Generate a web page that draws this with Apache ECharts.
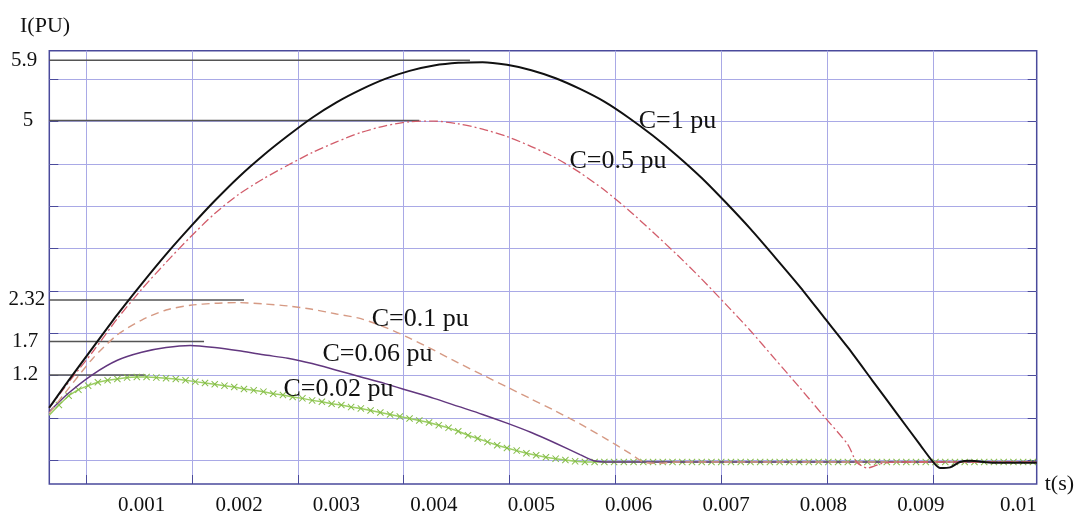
<!DOCTYPE html>
<html>
<head>
<meta charset="utf-8">
<script src="https://cdn.jsdelivr.net/npm/echarts@6/dist/echarts.min.js"></script>
<style>
  html, body { margin: 0; background: #fff; }
  #chart { width: 1083px; height: 520px; }
</style>
</head>
<body>
<div id="chart"></div>
<script>
// time in ms, current in PU
const xTicks = [1, 2, 3, 4, 5, 6, 7, 8, 9, 10];
const yTicks = [1.2, 1.7, 2.32, 5, 5.9];
const yPad = [7, 7, 0, 12, 8]; // right padding of each y label

// C = 1 pu
const curveC1 = [[0.05,0.71],[0.25,1.12],[0.5,1.61],[0.75,2.10],[1.0,2.56],[1.25,3.00],[1.5,3.41],[1.75,3.80],[2.0,4.16],[2.25,4.48],[2.5,4.77],[2.75,5.04],[3.0,5.27],[3.25,5.46],[3.5,5.62],[3.75,5.74],[4.0,5.82],[4.25,5.86],[4.5,5.87],[4.75,5.83],[5.0,5.75],[5.25,5.63],[5.5,5.47],[5.75,5.28],[6.0,5.04],[6.25,4.77],[6.5,4.47],[6.75,4.14],[7.0,3.77],[7.25,3.38],[7.5,2.96],[7.75,2.53],[8.0,2.07],[8.25,1.61],[8.5,1.12],[8.75,0.63],[9.0,0.14],[9.12,-0.09],[9.2,-0.19],[9.3,-0.18],[9.4,-0.10],[9.5,-0.08],[9.75,-0.11],[10.0,-0.11],[10.19,-0.11]];
// C = 0.5 pu
const curveC05 = [[0.05,0.71],[0.25,1.09],[0.5,1.55],[0.75,2.04],[1.0,2.48],[1.25,2.88],[1.5,3.26],[1.75,3.61],[2.0,3.90],[2.25,4.13],[2.5,4.33],[2.75,4.52],[3.0,4.68],[3.25,4.82],[3.5,4.92],[3.75,4.98],[4.0,4.99],[4.25,4.95],[4.5,4.87],[4.75,4.76],[5.0,4.61],[5.25,4.44],[5.5,4.22],[5.75,3.96],[6.0,3.66],[6.25,3.33],[6.5,2.99],[6.75,2.63],[7.0,2.25],[7.25,1.86],[7.5,1.44],[7.75,1.02],[8.0,0.59],[8.25,0.16],[8.34,-0.10],[8.45,-0.19],[8.6,-0.12],[8.75,-0.10],[10.19,-0.10]];
// C = 0.1 pu
const curveC01 = [[0.05,0.63],[0.25,1.0],[0.5,1.45],[0.75,1.80],[1.0,2.02],[1.25,2.17],[1.5,2.24],[1.75,2.27],[2.0,2.28],[2.25,2.26],[2.5,2.23],[2.75,2.18],[3.0,2.11],[3.25,2.04],[3.5,1.91],[3.75,1.75],[4.0,1.57],[4.25,1.38],[4.5,1.20],[4.75,1.02],[5.0,0.84],[5.25,0.66],[5.5,0.47],[5.75,0.26],[6.0,0.04],[6.15,-0.10],[6.3,-0.12],[6.5,-0.10],[10.19,-0.10]];
// C = 0.06 pu
const curveC006 = [[0.05,0.65],[0.25,0.93],[0.5,1.21],[0.75,1.42],[1.0,1.54],[1.25,1.61],[1.5,1.64],[1.75,1.61],[2.0,1.56],[2.25,1.50],[2.5,1.45],[2.75,1.37],[3.0,1.27],[3.25,1.17],[3.5,1.07],[3.75,0.96],[4.0,0.85],[4.25,0.73],[4.5,0.61],[4.75,0.48],[5.0,0.34],[5.25,0.18],[5.5,0.01],[5.64,-0.08],[5.8,-0.10],[10.19,-0.10]];
// C = 0.02 pu (sampled, drawn with x markers)
const tC002 = [0.05,0.15,0.25,0.35,0.45,0.55,0.65,0.75,0.85,0.95,1.05,1.15,1.25,1.35,1.45,1.55,1.65,1.75,1.85,1.95,2.05,2.15,2.25,2.35,2.45,2.55,2.65,2.75,2.85,2.95,3.05,3.15,3.25,3.35,3.45,3.55,3.65,3.75,3.85,3.95,4.05,4.15,4.25,4.35,4.45,4.55,4.65,4.75,4.85,4.95,5.05,5.15,5.25,5.35,5.45,5.55,5.65,5.75,5.85,5.95,6.05,6.15,6.25,6.35,6.45,6.55,6.65,6.75,6.85,6.95,7.05,7.15,7.25,7.35,7.45,7.55,7.65,7.75,7.85,7.95,8.05,8.15,8.25,8.35,8.45,8.55,8.65,8.75,8.85,8.95,9.05,9.15,9.25,9.35,9.45,9.55,9.65,9.75,9.85,9.95,10.05,10.15];
const vC002 = [0.60,0.75,0.89,0.98,1.04,1.09,1.12,1.14,1.16,1.17,1.17,1.16,1.15,1.14,1.12,1.10,1.08,1.06,1.04,1.02,0.99,0.97,0.95,0.92,0.90,0.87,0.85,0.82,0.80,0.77,0.75,0.72,0.70,0.67,0.64,0.61,0.58,0.55,0.52,0.49,0.45,0.41,0.36,0.30,0.25,0.20,0.15,0.11,0.07,0.03,0.00,-0.03,-0.05,-0.07,-0.09,-0.10,-0.10,-0.10,-0.10,-0.10,-0.10,-0.10,-0.10,-0.10,-0.10,-0.10,-0.10,-0.10,-0.10,-0.10,-0.10,-0.10,-0.10,-0.10,-0.10,-0.10,-0.10,-0.10,-0.10,-0.10,-0.10,-0.10,-0.10,-0.10,-0.10,-0.10,-0.10,-0.10,-0.10,-0.10,-0.10,-0.10,-0.10,-0.10,-0.10,-0.10,-0.10,-0.10,-0.10,-0.10,-0.10,-0.10];

// peak marker lines: value and time where the line stops
const peakValues = [5.9, 5, 2.32, 1.7, 1.2];
const peakEnds = [4.37, 3.85, 2.05, 1.64, 1.04];

// curve captions
const captions = ['C=1 pu', 'C=0.5 pu', 'C=0.1 pu', 'C=0.06 pu', 'C=0.02 pu'];
const captionPos = [[6.50, 4.99], [5.89, 4.39], [3.86, 2.03], [3.42, 1.51], [3.02, 0.99]];

const T_MIN = 0.0513, T_MAX = 10.189;
const I_MIN = -0.4285, I_MAX = 6.041;
const FONT = '"Liberation Serif", "Times New Roman", serif';
const BORDER = '#4a4a9c';
const GRIDLINE = '#a9a9e6';

const chart = echarts.init(document.getElementById('chart'));

const peakSeries = peakValues.map((v, i) => ({
  type: 'line',
  silent: true,
  showSymbol: false,
  data: [[T_MIN, v], [peakEnds[i], v]],
  lineStyle: { color: '#555', width: 1.5 },
  z: 3,
}));

const option = {
  animation: false,
  backgroundColor: '#fff',
  title: {
    text: 'I(PU)',
    left: 15,
    top: 10,
    textStyle: { fontFamily: FONT, fontSize: 22, fontWeight: 'normal', color: '#111' },
  },
  grid: [
    { left: 49.3, right: 46.3, top: 50.7, bottom: 36, show: true, borderColor: BORDER, borderWidth: 1.5 },
    { left: 86, right: 149.7, top: 50.7, bottom: 36 },
    { left: 49.3, right: 46.3, top: 79.3, bottom: 59.9 },
  ],
  xAxis: [
    {
      gridIndex: 0,
      type: 'value',
      min: T_MIN,
      max: T_MAX,
      name: 't(s)',
      nameLocation: 'end',
      nameGap: 8,
      nameTextStyle: { fontFamily: FONT, fontSize: 22, color: '#111', align: 'left', verticalAlign: 'middle' },
      axisLine: { show: false, onZero: false },
      axisTick: { show: false },
      splitLine: { show: false },
      axisLabel: {
        customValues: xTicks,
        formatter: (v) => String(v / 1000),
        fontFamily: FONT,
        fontSize: 21,
        color: '#111',
        margin: 11,
      },
    },
    {
      gridIndex: 1,
      type: 'value',
      min: 0,
      max: 8,
      interval: 1,
      axisLabel: { show: false },
      axisLine: { show: false, onZero: false },
      axisTick: { show: true, inside: true, length: 9, lineStyle: { color: BORDER } },
      splitLine: { show: true, lineStyle: { color: GRIDLINE, width: 1 } },
    },
    { gridIndex: 2, type: 'value', show: false, min: 0, max: 1 },
  ],
  yAxis: [
    {
      gridIndex: 0,
      type: 'value',
      min: I_MIN,
      max: I_MAX,
      axisLine: { show: false, onZero: false },
      axisTick: { show: false },
      splitLine: { show: false },
      axisLabel: {
        customValues: yTicks,
        margin: 4,
        formatter: (v) => `{r${yTicks.indexOf(v)}|${v}}`,
        rich: Object.fromEntries(yTicks.map((v, i) => ['r' + i, {
          fontFamily: FONT, fontSize: 21, color: '#111', padding: [0, yPad[i], 0, 0],
        }])),
      },
    },
    { gridIndex: 1, type: 'value', show: false, min: 0, max: 1 },
    {
      gridIndex: 2,
      type: 'value',
      min: 0,
      max: 9,
      interval: 1,
      position: 'left',
      axisLabel: { show: false },
      axisLine: { show: false, onZero: false },
      axisTick: { show: true, inside: true, length: 9, lineStyle: { color: BORDER } },
      splitLine: { show: true, lineStyle: { color: GRIDLINE, width: 1 } },
    },
    {
      gridIndex: 2,
      type: 'value',
      min: 0,
      max: 9,
      interval: 1,
      position: 'right',
      axisLabel: { show: false },
      axisLine: { show: false, onZero: false },
      axisTick: { show: true, inside: true, length: 9, lineStyle: { color: BORDER } },
      splitLine: { show: false },
    },
  ],
  series: [
    ...peakSeries,
    {
      name: 'C=0.02 pu',
      type: 'line',
      data: tC002.map((t, i) => [t, vC002[i]]),
      symbol: 'path://M0,1L1,0L5,4L9,0L10,1L6,5L10,9L9,10L5,6L1,10L0,9L4,5Z',
      symbolSize: 7,
      showSymbol: true,
      itemStyle: { color: '#86bd4a' },
      lineStyle: { color: '#9ccf62', width: 1.5 },
      z: 4,
    },
    {
      name: 'C=0.06 pu',
      type: 'line',
      data: curveC006,
      showSymbol: false,
      smooth: 0.25,
      lineStyle: { color: '#62377f', width: 1.5 },
      z: 5,
    },
    {
      name: 'C=0.1 pu',
      type: 'line',
      data: curveC01,
      showSymbol: false,
      smooth: 0.25,
      lineStyle: { color: '#d69a84', width: 1.4, type: [8, 5] },
      z: 5,
    },
    {
      name: 'C=0.5 pu',
      type: 'line',
      data: curveC05,
      showSymbol: false,
      smooth: 0.25,
      lineStyle: { color: '#d25d6b', width: 1.3, type: [9, 3, 2, 3] },
      z: 6,
    },
    {
      name: 'C=1 pu',
      type: 'line',
      data: curveC1,
      showSymbol: false,
      smooth: 0.25,
      lineStyle: { color: '#111', width: 2 },
      z: 7,
    },
    {
      type: 'scatter',
      silent: true,
      symbolSize: 0,
      itemStyle: { opacity: 1 },
      data: captions.map((c, i) => ({ name: c, value: captionPos[i] })),
      label: {
        show: true,
        position: 'inside',
        formatter: '{b}',
        fontFamily: FONT,
        fontSize: 26,
        color: '#111',
      },
      z: 10,
    },
  ],
};

chart.setOption(option);
</script>
</body>
</html>
